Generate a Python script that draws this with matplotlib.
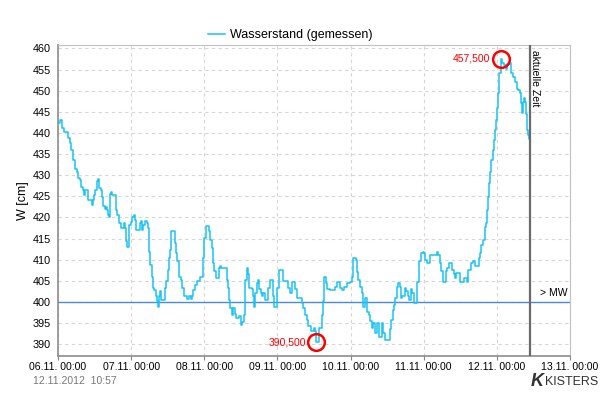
import numpy as np
import matplotlib
matplotlib.use("Agg")
import matplotlib.pyplot as plt
import matplotlib.dates as mdates

plt.rcParams["font.family"] = ["Liberation Sans", "DejaVu Sans"]

START = np.datetime64("2012-11-06T00:00")
NOW_H = 154.95  # 12.11.2012 10:57

# hours since 06.11. 00:00 and measured water level [cm]
hours = [
    0.0, 0.7, 1.4, 2.1, 3.4, 4.0, 4.3, 4.9, 5.6, 6.3, 6.7, 7.3, 7.6, 8.1, 8.5, 9.0,
    9.8, 11.1, 11.4, 11.8, 12.2, 12.7, 13.1, 13.4, 14.0, 14.4, 14.7, 15.3, 15.8, 16.1,
    16.4, 16.7, 17.2, 17.5, 17.8, 19.1, 19.5, 20.0, 20.6, 21.5, 21.9, 22.2, 22.6, 23.2,
    23.8, 24.3, 24.8, 25.2, 25.7, 27.0, 27.3, 27.7, 28.0, 28.7, 29.1, 29.5, 29.8, 30.3,
    30.7, 31.2, 31.6, 32.0, 32.4, 32.8, 33.0, 33.6, 33.9, 35.2, 35.6, 36.1, 36.4, 36.9,
    37.2, 38.3, 38.6, 39.2, 39.6, 40.2, 40.7, 41.3, 42.4, 43.0, 43.5, 44.0, 44.3, 44.9,
    45.7, 46.5, 47.6, 48.0, 48.5, 49.6, 49.8, 50.4, 50.7, 51.1, 51.7, 52.7, 53.1, 53.6,
    55.3, 55.8, 56.2, 56.4, 57.2, 57.5, 58.0, 58.4, 59.4, 59.9, 60.4, 60.9, 61.3, 61.5,
    61.9, 62.2, 62.6, 63.5, 64.1, 64.4, 64.7, 65.2, 65.7, 66.0, 66.5, 67.0, 67.4, 67.9,
    69.0, 69.5, 70.4, 71.0, 72.0, 72.4, 73.7, 73.9, 75.6, 76.2, 76.7, 77.8, 78.3, 79.9,
    80.5, 81.1, 81.6, 82.1, 83.0, 84.0, 84.4, 84.8, 85.6, 86.5, 87.1, 87.4, 87.8, 88.2,
    89.3, 90.9, 91.5, 92.6, 93.1, 93.7, 94.8, 95.8, 96.4, 96.9, 97.7, 98.0, 98.6, 99.1,
    99.7, 100.2, 100.8, 101.3, 101.9, 102.4, 103.0, 103.5, 104.1, 104.6, 105.2, 106.2,
    106.8, 107.4, 108.8, 109.2, 109.8, 110.3, 110.6, 111.2, 111.7, 112.1, 112.5, 113.0,
    113.8, 114.3, 114.7, 115.2, 115.7, 116.1, 116.8, 117.8, 118.3, 118.6, 119.1, 119.7,
    120.2, 120.5, 121.1, 122.1, 124.4, 124.7, 125.2, 125.8, 126.3, 126.9, 127.4, 127.8,
    128.4, 129.3, 129.8, 130.3, 130.7, 132.0, 133.1, 134.2, 134.7, 135.5, 136.2, 136.9,
    138.0, 138.4, 138.8, 139.5, 140.2, 140.5, 140.8, 141.1, 141.5, 141.9, 142.2, 142.6,
    143.0, 143.3, 143.7, 144.1, 144.4, 144.8, 145.2, 145.7, 146.5, 147.0, 147.3, 148.4,
    148.8, 149.2, 149.8, 150.6, 151.1, 151.5, 152.0, 152.3, 152.5, 152.8, 153.2, 153.6,
    153.9, 154.2, 154.6, 154.95,
]
level = [
    442.3, 443.0, 441.1, 440.3, 438.7, 437.5, 436.0, 433.6, 431.4, 430.8, 429.3, 428.9, 427.3, 426.5, 425.3, 426.5,
    424.1, 423.0, 424.1, 425.3, 426.5, 428.5, 429.0, 427.0, 426.5, 424.9, 422.7, 422.0, 422.5, 421.8,
    420.6, 420.2, 425.5, 426.0, 425.3, 421.8, 420.6, 418.6, 417.4, 418.6, 417.4, 414.3, 413.1, 418.2,
    419.0, 420.2, 420.5, 419.5, 417.0, 418.6, 419.2, 417.0, 418.2, 419.2, 418.6, 417.4, 411.9, 408.8,
    406.0, 403.4, 402.9, 401.3, 400.1, 398.9, 401.5, 402.5, 400.5, 403.3, 404.9, 407.6, 410.4, 412.3,
    416.9, 413.9, 411.5, 409.6, 405.9, 405.3, 403.3, 401.3, 400.8, 401.3, 400.8, 401.3, 402.9, 404.0,
    405.0, 406.0, 410.4, 415.1, 418.0, 416.7, 414.7, 412.7, 409.2, 407.2, 405.6, 408.0, 408.4, 408.0,
    405.2, 403.3, 400.5, 398.5, 397.0, 398.5, 397.2, 396.2, 396.6, 394.6, 395.3, 397.0, 400.5, 405.3,
    408.0, 406.5, 403.3, 403.0, 401.3, 398.9, 402.0, 404.4, 405.3, 403.0, 402.0, 401.3, 402.0, 400.5,
    403.3, 405.3, 401.3, 398.9, 403.3, 407.6, 407.2, 405.0, 403.3, 402.1, 404.6, 403.0, 401.0, 399.8,
    398.5, 397.0, 395.8, 394.2, 393.0, 393.8, 393.0, 390.5, 393.8, 397.0, 400.1, 406.0, 404.4, 403.0,
    402.8, 403.6, 404.8, 403.3, 402.8, 403.6, 404.4, 404.8, 406.0, 410.4, 410.0, 407.0, 405.2, 403.6,
    402.1, 398.9, 400.9, 397.7, 397.0, 395.4, 393.8, 395.0, 392.6, 395.0, 391.8, 395.0,
    392.6, 390.9, 393.7, 395.8, 398.1, 399.3, 400.9, 403.6, 404.4, 403.6, 400.9, 401.3,
    403.2, 402.5, 401.3, 400.5, 403.0, 402.0, 399.7, 404.8, 407.6, 409.6, 411.5, 411.9,
    411.5, 410.0, 409.2, 411.1, 411.9, 411.1, 409.2, 407.2, 404.8, 404.8, 407.2, 408.0,
    409.2, 407.6, 406.5, 405.6, 406.8, 404.8, 405.6, 404.8, 407.6, 409.2, 409.6, 408.4,
    410.4, 411.5, 413.5, 414.7, 417.8, 418.6, 421.8, 424.9, 428.1, 430.8, 433.6, 436.0,
    438.3, 440.7, 443.0, 445.8, 449.4, 454.1, 457.5, 456.5, 456.0, 455.2, 456.3, 456.6,
    454.1, 453.3, 452.1, 450.5, 450.2, 449.4, 447.0, 444.6, 447.4, 448.2, 447.4, 444.4,
    440.7, 439.6, 438.5, 438.5,
]
mw_level = 400.0
yticks = list(range(390, 461, 5))


def to_dt(h):
    return START + (np.asarray(h) * 60).astype("timedelta64[m]")


t = to_dt(hours)
w = np.array(level)

fig = plt.figure(figsize=(6, 4), dpi=100)
ax = fig.add_axes([58 / 600, 44 / 400, 512 / 600, 311 / 400])

line, = ax.plot(t, w, drawstyle="steps-post", color="#19c3f3", lw=1.1,
                label="Wasserstand (gemessen)", zorder=3)
ax.axhline(mw_level, color="#4a8be0", lw=1, zorder=2)

now = to_dt(NOW_H)
ax.axvline(now, color="#6a6a6a", lw=1.6, zorder=4)

# max / min markers
imax, imin = int(np.argmax(w)), int(np.argmin(w))
for i in (imax, imin):
    ax.plot(t[i], w[i], "o", ms=12, mfc="none", mec="#ff0000", mew=1.8, zorder=5)
    ax.annotate(f"{w[i]:.3f}".replace(".", ","), (t[i], w[i]), xytext=(-7.5, 0),
                textcoords="offset points", ha="right", va="center",
                color="#ff0000", fontsize=7.5)

ax.set_xlim(START, START + np.timedelta64(7, "D"))
ax.set_ylim(387.2, 460.8)
ax.set_yticks(yticks)
ax.xaxis.set_major_locator(mdates.DayLocator())
ax.xaxis.set_major_formatter(mdates.DateFormatter("%d.%m. %H:%M"))
ax.tick_params(axis="x", length=3, color="#888", labelsize=7.6, pad=1)
ax.tick_params(axis="y", length=0, labelsize=7.8, pad=5)
ax.grid(True, ls=(0, (3, 3)), color="#d6d6d6", lw=0.8)
for s in ("left", "bottom"):
    ax.spines[s].set_color("#8c8c8c")
    ax.spines[s].set_linewidth(1.2)
for s in ("top", "right"):
    ax.spines[s].set_color("#c0c0c0")
ax.set_ylabel("W [cm]", fontsize=9, labelpad=3)

ax.text(now, 460.4, " aktuelle Zeit", rotation=270, ha="left", va="top",
        fontsize=7.5, transform=ax.transData)
ax.annotate("> MW", (1, mw_level), xycoords=("axes fraction", "data"),
            xytext=(-2, 3), textcoords="offset points", ha="right", va="bottom",
            fontsize=7.5)

fig.legend(handles=[line], loc="center", bbox_to_anchor=(290 / 600, 1 - 35 / 400),
           frameon=False, fontsize=9, handlelength=1.4, handletextpad=0.4)

fig.text(33 / 600, 1 - 381 / 400, "12.11.2012  10:57", color="#777777",
         fontsize=7.5, va="center")
fig.text(544 / 600, 1 - 382 / 400, "K", color="#333333", fontsize=13,
         fontweight="bold", style="italic", ha="right", va="center")
fig.text(598 / 600, 1 - 382 / 400, "KISTERS", color="#333333", fontsize=9,
         ha="right", va="center")

fig.savefig("out.png", dpi=100)
